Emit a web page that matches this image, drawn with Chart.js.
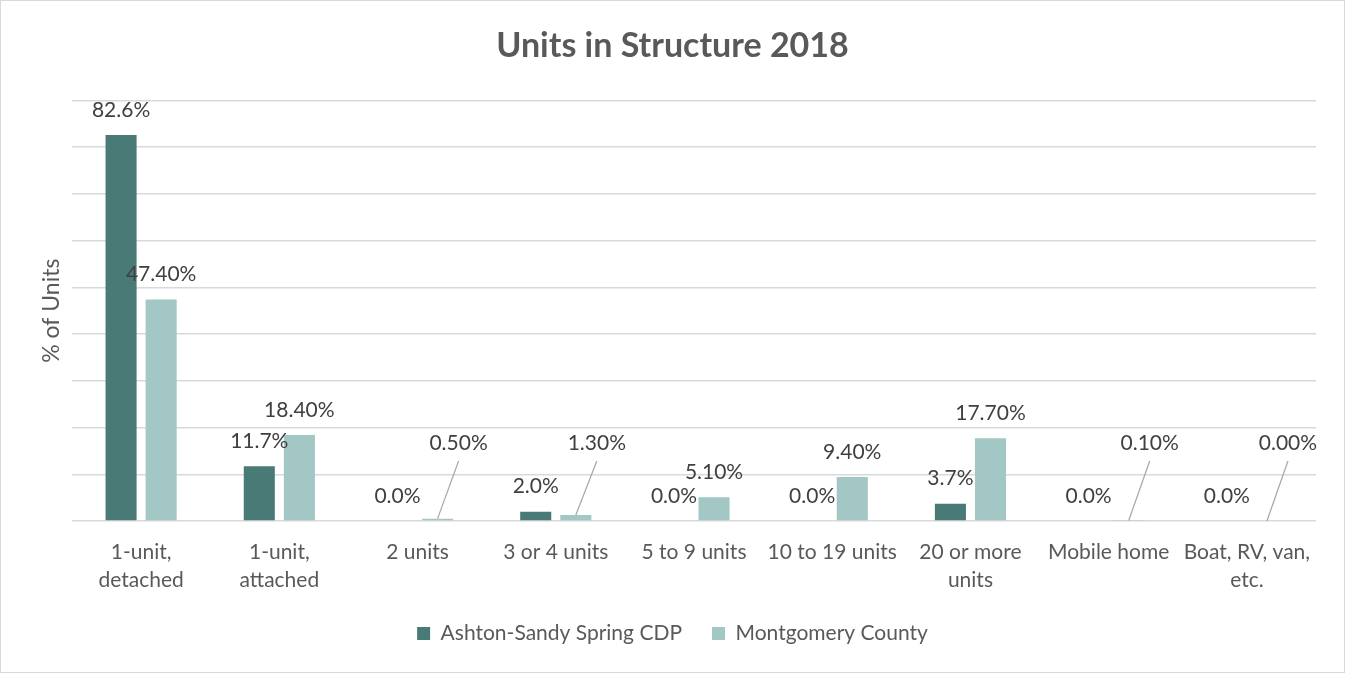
<!DOCTYPE html>
<html>
<head>
<meta charset="utf-8">
<script src="https://cdn.jsdelivr.net/npm/chart.js@4.4.1/dist/chart.umd.min.js"></script>
<style>
  html, body { margin: 0; padding: 0; background: #fff; }
  #wrap { width: 1345px; height: 673px; }
</style>
</head>
<body>
<div id="wrap"><canvas id="grafico" width="1345" height="673"></canvas></div>
<script>
// categorias y valores
var categorias = [
    ['1-unit,', 'detached'], ['1-unit,', 'attached'], '2 units', '3 or 4 units', '5 to 9 units',
    '10 to 19 units', ['20 or more', 'units'], 'Mobile home', ['Boat, RV, van,', 'etc.']
];
var ashton = [82.6, 11.7, 0.0, 2.0, 0.0, 0.0, 3.7, 0.0, 0.0];
var montgomery = [47.4, 18.4, 0.5, 1.3, 5.1, 9.4, 17.7, 0.1, 0.0];
var nombresSeries = ['Ashton-Sandy Spring CDP', 'Montgomery County'];
var decimales = [1, 2];

var colorOscuro = '#4a7a76';
var colorClaro = '#a2c7c4';
var fuente = 'Lato, "Open Sans", sans-serif';

// fondo blanco y borde gris del cuadro
var fondo = {
    id: 'fondo',
    beforeDraw: function (chart) {
        let ctx = chart.ctx;
        ctx.save();
        ctx.fillStyle = '#fff';
        ctx.fillRect(0, 0, chart.width, chart.height);
        ctx.strokeStyle = '#d9d9d9';
        ctx.lineWidth = 1;
        ctx.strokeRect(0.5, 0.5, chart.width - 1, chart.height - 1);
        ctx.restore();
    }
};

// etiquetas de datos sobre cada barra, con linea guia para las pequenas de la serie clara
var etiquetas = {
    id: 'etiquetas',
    afterDatasetsDraw: function (chart) {
        let ctx = chart.ctx;
        let base = chart.scales.y.getPixelForValue(0);
        ctx.save();
        ctx.font = '21px ' + fuente;
        ctx.fillStyle = '#404040';
        ctx.textAlign = 'center';
        ctx.textBaseline = 'middle';
        chart.data.datasets.forEach(function (ds, d) {
            let meta = chart.getDatasetMeta(d);
            meta.data.forEach(function (bar, i) {
                let valor = ds.data[i];
                let texto = valor.toFixed(decimales[d]) + '%';
                if (d == 1 && valor < 2) {
                    let lx = bar.x + 21;
                    let ly = base - 78;
                    ctx.fillText(texto, lx, ly);
                    ctx.beginPath();
                    ctx.strokeStyle = '#a6a6a6';
                    ctx.lineWidth = 1.2;
                    ctx.moveTo(lx, ly + 18);
                    ctx.lineTo(bar.x, bar.y);
                    ctx.stroke();
                } else {
                    ctx.fillText(texto, bar.x, bar.y - 25);
                }
            });
        });
        ctx.restore();
    }
};

var grafico = new Chart(document.getElementById('grafico'), {
    type: 'bar',
    data: {
        labels: categorias,
        datasets: [{
            label: nombresSeries[0],
            data: ashton,
            backgroundColor: colorOscuro,
            categoryPercentage: 0.58,
            barPercentage: 0.775
        }, {
            label: nombresSeries[1],
            data: montgomery,
            backgroundColor: colorClaro,
            categoryPercentage: 0.58,
            barPercentage: 0.775
        }]
    },
    options: {
        responsive: false,
        animation: false,
        layout: { padding: { left: 0, right: 0, top: 0, bottom: 19 } },
        plugins: {
            title: {
                display: true,
                text: 'Units in Structure 2018',
                color: '#595959',
                font: { family: fuente, size: 34, weight: 'bold', lineHeight: 1.2 },
                padding: { top: 25.6, bottom: 34 }
            },
            legend: {
                position: 'bottom',
                labels: {
                    boxWidth: 13,
                    boxHeight: 13,
                    padding: 30,
                    color: '#595959',
                    font: { family: fuente, size: 21 }
                }
            },
            tooltip: { enabled: false }
        },
        scales: {
            x: {
                grid: { display: false, drawTicks: false },
                border: { display: false },
                ticks: {
                    color: '#595959',
                    padding: 16.8,
                    maxRotation: 0,
                    autoSkip: false,
                    font: { family: fuente, size: 21, lineHeight: 1.35 }
                },
                afterFit: function (scale) { scale.width = scale.width; scale.height = 72; }
            },
            y: {
                min: 0,
                max: 90,
                ticks: { display: false, stepSize: 10 },
                grid: { color: '#d9d9d9', lineWidth: 1.5, drawTicks: false },
                border: { display: false },
                title: {
                    display: true,
                    text: '% of Units',
                    color: '#595959',
                    font: { family: fuente, size: 23, lineHeight: 1.2 },
                    padding: { top: 38, bottom: 0 }
                },
                afterFit: function (scale) { scale.width = 72; }
            },
            // eje vacio a la derecha, solo para dejar el margen sin descentrar titulo y leyenda
            margen: {
                type: 'linear',
                position: 'right',
                ticks: { display: false },
                grid: { display: false, drawTicks: false },
                border: { display: false },
                afterFit: function (scale) { scale.width = 29; }
            }
        }
    },
    plugins: [fondo, etiquetas]
});
</script>
</body>
</html>
